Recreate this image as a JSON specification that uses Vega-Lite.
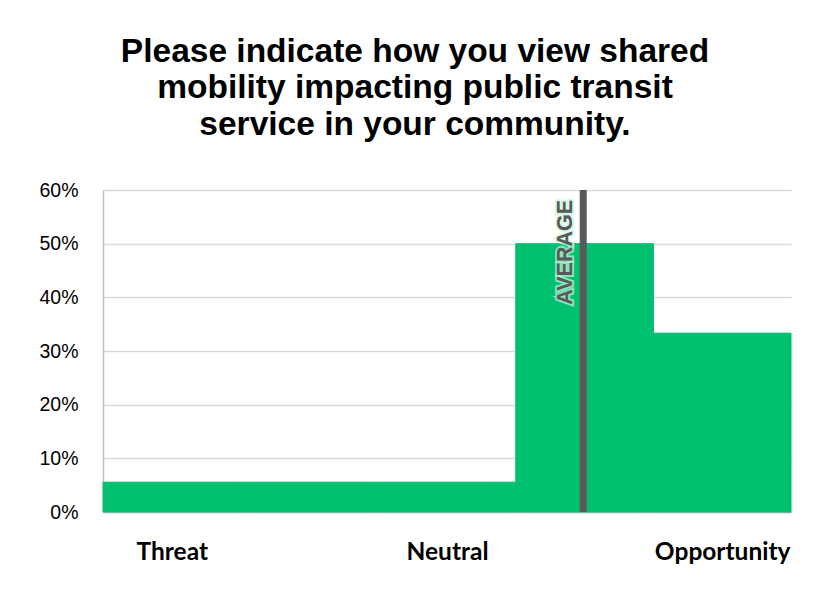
{
  "$schema": "https://vega.github.io/schema/vega-lite/v6.json",
  "autosize": {"type": "none"},
  "width": 688,
  "height": 322,
  "padding": {"left": 103, "top": 190, "right": 23, "bottom": 103},
  "background": "white",
  "title": {
    "text": ["Please indicate how you view shared", "mobility impacting public transit", "service in your community."],
    "font": "Liberation Sans",
    "fontSize": 33.5,
    "fontWeight": "bold",
    "lineHeight": 36.5,
    "color": "black",
    "anchor": "middle",
    "frame": "group",
    "dx": -32,
    "offset": 38
  },
  "datasets": {
    "bins": [
      {"bin": 1, "lo": 0.5, "hi": 1.5, "pct": 0.0556},
      {"bin": 2, "lo": 1.5, "hi": 2.5, "pct": 0.0556},
      {"bin": 3, "lo": 2.5, "hi": 3.5, "pct": 0.0556},
      {"bin": 4, "lo": 3.5, "hi": 4.5, "pct": 0.5},
      {"bin": 5, "lo": 4.5, "hi": 5.5, "pct": 0.3333}
    ],
    "avg": [{"avg": 3.99, "label": "AVERAGE", "top": 0.6}]
  },
  "config": {
    "view": {"stroke": null},
    "axis": {"grid": false}
  },
  "layer": [
    {
      "data": {"name": "bins"},
      "mark": {"type": "rect", "color": "#00BF6F", "stroke": "#00BF6F", "strokeWidth": 1},
      "encoding": {
        "x": {
          "field": "lo", "type": "quantitative",
          "scale": {"domain": [0.5, 5.5], "nice": false, "zero": false},
          "axis": {
            "title": null,
            "values": [1, 3, 5],
            "labelExpr": "datum.value == 1 ? 'Threat' : datum.value == 3 ? 'Neutral' : 'Opportunity'",
            "labelFont": "Lato",
            "labelFontWeight": "bold",
            "labelFontSize": 24.5,
            "labelColor": "black",
            "labelPadding": 28,
            "labelFlush": false,
            "labelOverlap": false,
            "ticks": false,
            "domainColor": "#bfbfbf",
            "domainWidth": 1.5
          }
        },
        "x2": {"field": "hi"},
        "y": {
          "field": "pct", "type": "quantitative",
          "scale": {"domain": [0, 0.6], "nice": false},
          "axis": {
            "title": null,
            "values": [0, 0.1, 0.2, 0.3, 0.4, 0.5, 0.6],
            "format": ".0%",
            "labelFont": "Liberation Sans",
            "labelFontSize": 19.5,
            "labelColor": "black",
            "labelPadding": 25,
            "ticks": false,
            "grid": true,
            "gridColor": "#d9d9d9",
            "gridWidth": 1.5,
            "domainColor": "#bfbfbf",
            "domainWidth": 1.5
          }
        },
        "y2": {"datum": 0}
      }
    },
    {
      "data": {"name": "avg"},
      "mark": {"type": "rule", "color": "#595959", "strokeWidth": 7},
      "encoding": {
        "x": {"field": "avg", "type": "quantitative"}
      }
    },
    {
      "data": {"name": "avg"},
      "mark": {"type": "text", "angle": 270, "align": "right", "baseline": "bottom", "font": "Liberation Sans", "fontWeight": "bold", "fontSize": 21.5, "color": "#595959", "stroke": "#c8f5dc", "strokeWidth": 4, "strokeOpacity": 0.7, "dx": -10, "dy": -6},
      "encoding": {
        "x": {"field": "avg", "type": "quantitative"},
        "y": {"field": "top", "type": "quantitative"},
        "text": {"field": "label"}
      }
    },
    {
      "data": {"name": "avg"},
      "mark": {"type": "text", "angle": 270, "align": "right", "baseline": "bottom", "font": "Liberation Sans", "fontWeight": "bold", "fontSize": 21.5, "color": "#595959", "dx": -10, "dy": -6},
      "encoding": {
        "x": {"field": "avg", "type": "quantitative"},
        "y": {"field": "top", "type": "quantitative"},
        "text": {"field": "label"}
      }
    }
  ]
}
